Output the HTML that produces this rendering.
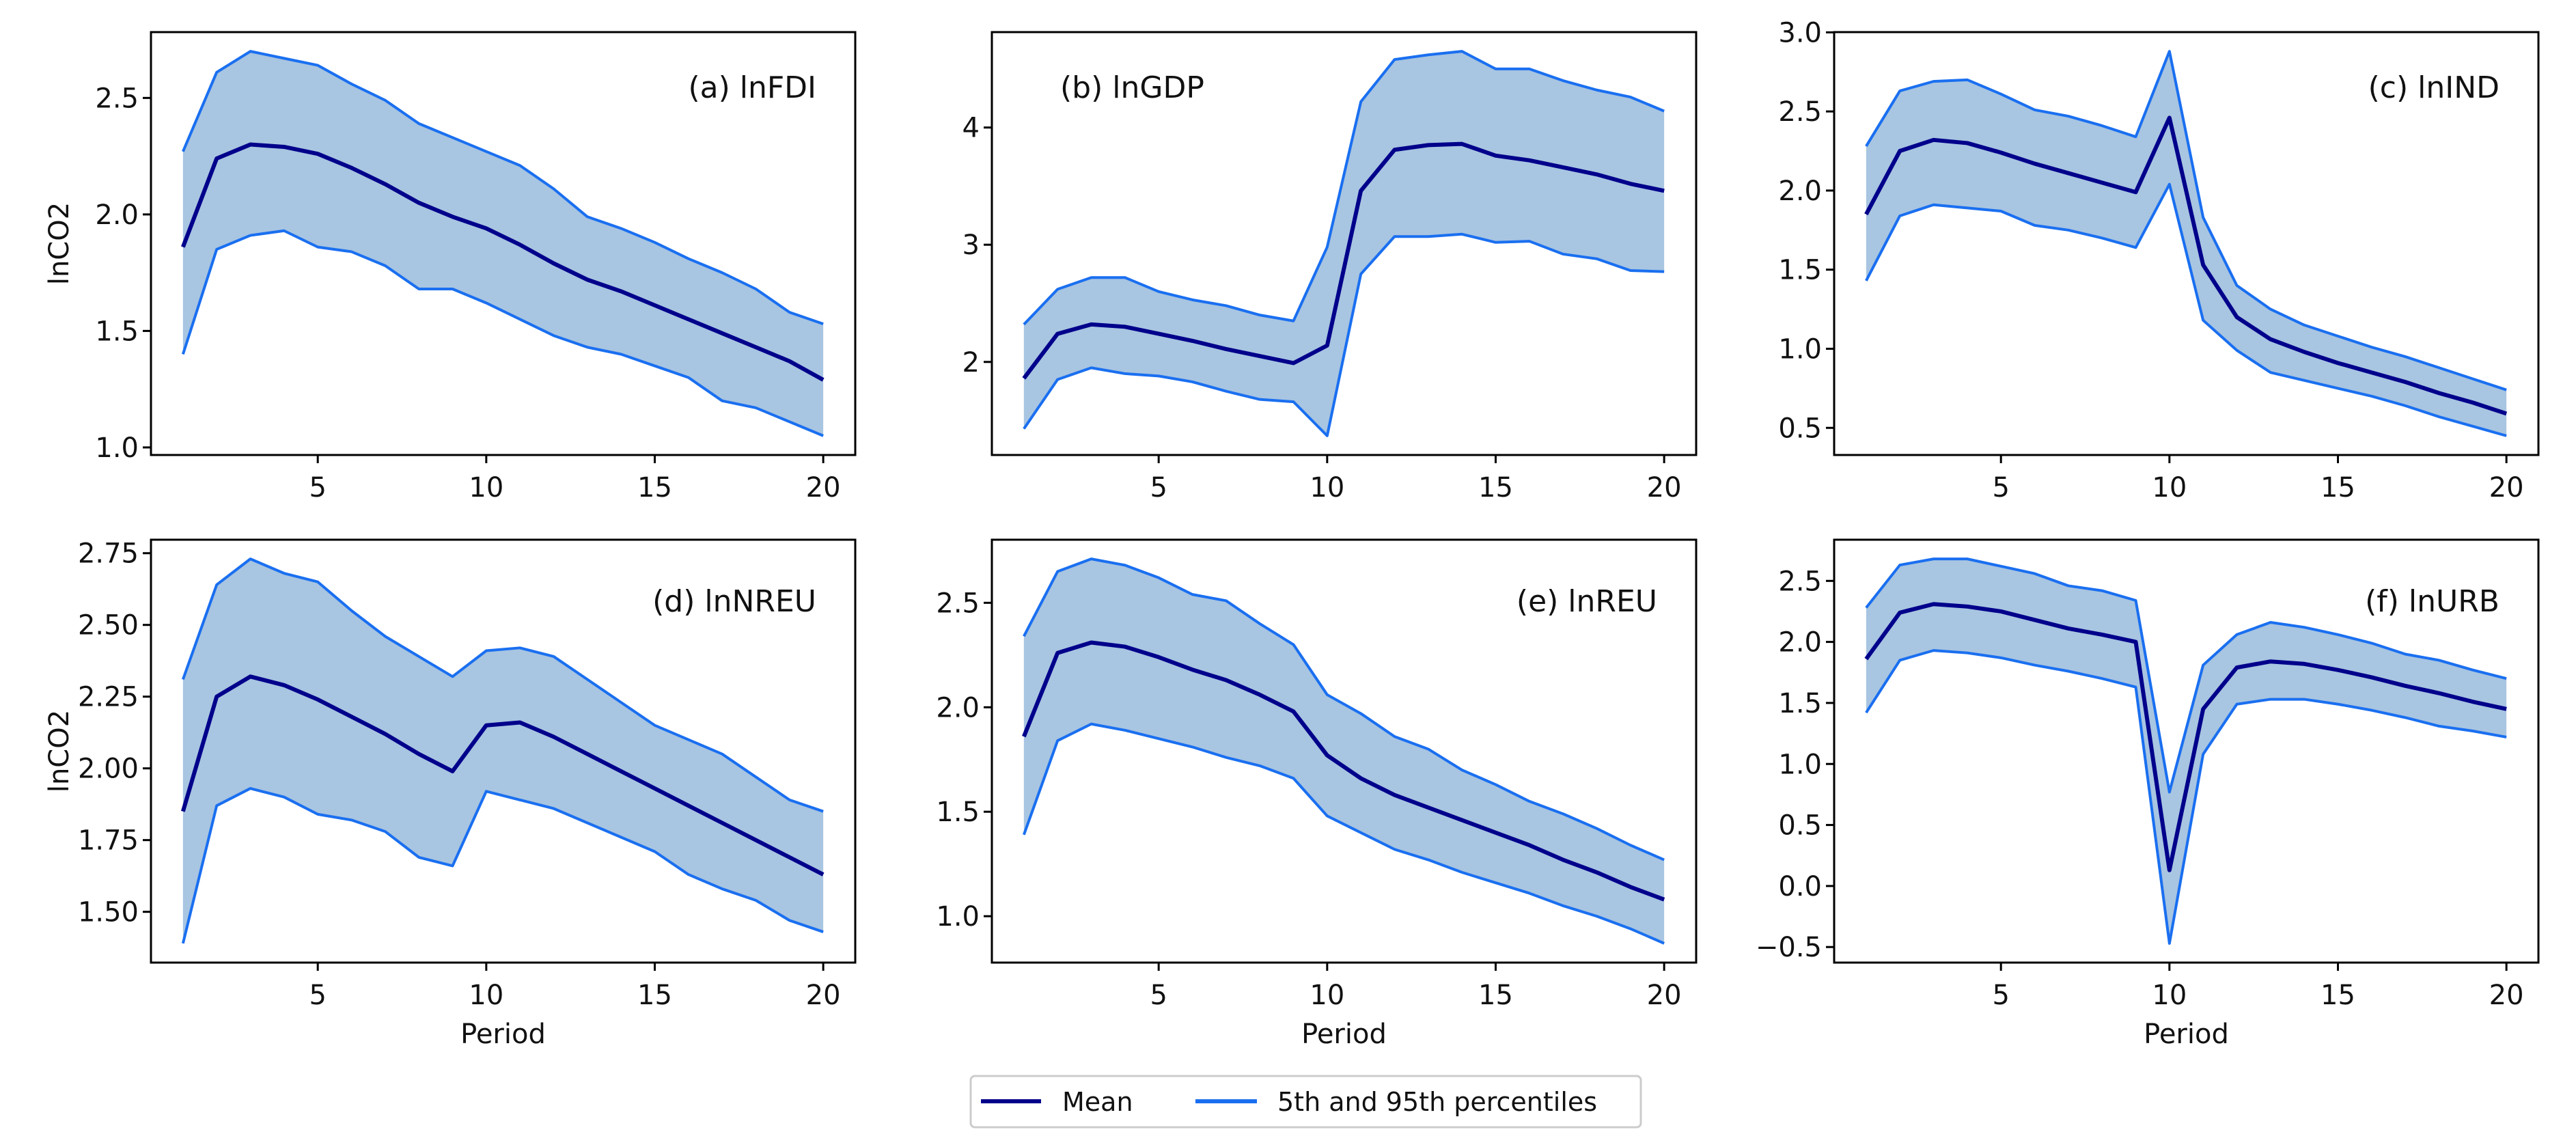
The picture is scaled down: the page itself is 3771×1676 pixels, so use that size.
<!DOCTYPE html>
<html><head><meta charset="utf-8"><style>
html,body{margin:0;padding:0;background:#fff;}
svg{display:block;font-family:"DejaVu Sans","Liberation Sans",sans-serif;}
</style></head><body>
<svg id="chart" width="3771" height="1676" viewBox="0 0 3771 1676" xmlns="http://www.w3.org/2000/svg">
<g id="panels"></g>
<g>
<rect x="1421" y="1575" width="981" height="75" rx="6" fill="#fff" stroke="#ccc" stroke-width="3"/>
<line x1="1436" y1="1612" x2="1524" y2="1612" stroke="#00008b" stroke-width="6"/>
<text x="1555" y="1626" font-size="38" fill="#111">Mean</text>
<line x1="1750" y1="1612" x2="1840" y2="1612" stroke="#1a6ff0" stroke-width="6"/>
<text x="1870" y="1626" font-size="38" fill="#111">5th and 95th percentiles</text>
</g>
</svg>
<script>
const periods = [1,2,3,4,5,6,7,8,9,10,11,12,13,14,15,16,17,18,19,20];
const xTicks = [5,10,15,20];
const titles = ["(a) lnFDI","(b) lnGDP","(c) lnIND","(d) lnNREU","(e) lnREU","(f) lnURB"];
const hiA=[2.27,2.61,2.70,2.67,2.64,2.56,2.49,2.39,2.33,2.27,2.21,2.11,1.99,1.94,1.88,1.81,1.75,1.68,1.58,1.53];
const meanA=[1.86,2.24,2.30,2.29,2.26,2.20,2.13,2.05,1.99,1.94,1.87,1.79,1.72,1.67,1.61,1.55,1.49,1.43,1.37,1.29];
const loA=[1.40,1.85,1.91,1.93,1.86,1.84,1.78,1.68,1.68,1.62,1.55,1.48,1.43,1.40,1.35,1.30,1.20,1.17,1.11,1.05];
const hiB=[2.32,2.62,2.72,2.72,2.60,2.53,2.48,2.40,2.35,2.98,4.22,4.58,4.62,4.65,4.50,4.50,4.40,4.32,4.26,4.14];
const meanB=[1.86,2.24,2.32,2.30,2.24,2.18,2.11,2.05,1.99,2.14,3.46,3.81,3.85,3.86,3.76,3.72,3.66,3.60,3.52,3.46];
const loB=[1.43,1.85,1.95,1.90,1.88,1.83,1.75,1.68,1.66,1.37,2.75,3.07,3.07,3.09,3.02,3.03,2.92,2.88,2.78,2.77];
const hiC=[2.28,2.63,2.69,2.70,2.61,2.51,2.47,2.41,2.34,2.88,1.83,1.40,1.25,1.15,1.08,1.01,0.95,0.88,0.81,0.74];
const meanC=[1.85,2.25,2.32,2.30,2.24,2.17,2.11,2.05,1.99,2.46,1.53,1.20,1.06,0.98,0.91,0.85,0.79,0.72,0.66,0.59];
const loC=[1.43,1.84,1.91,1.89,1.87,1.78,1.75,1.70,1.64,2.04,1.18,0.99,0.85,0.80,0.75,0.70,0.64,0.57,0.51,0.45];
const hiD=[2.31,2.64,2.73,2.68,2.65,2.55,2.46,2.39,2.32,2.41,2.42,2.39,2.31,2.23,2.15,2.10,2.05,1.97,1.89,1.85];
const meanD=[1.85,2.25,2.32,2.29,2.24,2.18,2.12,2.05,1.99,2.15,2.16,2.11,2.05,1.99,1.93,1.87,1.81,1.75,1.69,1.63];
const loD=[1.39,1.87,1.93,1.90,1.84,1.82,1.78,1.69,1.66,1.92,1.89,1.86,1.81,1.76,1.71,1.63,1.58,1.54,1.47,1.43];
const hiE=[2.34,2.65,2.71,2.68,2.62,2.54,2.51,2.40,2.30,2.06,1.97,1.86,1.80,1.70,1.63,1.55,1.49,1.42,1.34,1.27];
const meanE=[1.86,2.26,2.31,2.29,2.24,2.18,2.13,2.06,1.98,1.77,1.66,1.58,1.52,1.46,1.40,1.34,1.27,1.21,1.14,1.08];
const loE=[1.39,1.84,1.92,1.89,1.85,1.81,1.76,1.72,1.66,1.48,1.40,1.32,1.27,1.21,1.16,1.11,1.05,1.00,0.94,0.87];
const hiF=[2.28,2.63,2.68,2.68,2.62,2.56,2.46,2.42,2.34,0.77,1.81,2.06,2.16,2.12,2.06,1.99,1.90,1.85,1.77,1.70];
const meanF=[1.86,2.24,2.31,2.29,2.25,2.18,2.11,2.06,2.00,0.13,1.45,1.79,1.84,1.82,1.77,1.71,1.64,1.58,1.51,1.45];
const loF=[1.42,1.85,1.93,1.91,1.87,1.81,1.76,1.70,1.63,-0.47,1.08,1.49,1.53,1.53,1.49,1.44,1.38,1.31,1.27,1.22];
const yTicksA=[1.0,1.5,2.0,2.5];
const yTicksB=[2,3,4];
const yTicksC=[0.5,1.0,1.5,2.0,2.5,3.0];
const yTicksD=[1.50,1.75,2.00,2.25,2.50,2.75];
const yTicksE=[1.0,1.5,2.0,2.5];
const yTicksF=[-0.5,0.0,0.5,1.0,1.5,2.0,2.5];

const his=[hiA,hiB,hiC,hiD,hiE,hiF], means=[meanA,meanB,meanC,meanD,meanE,meanF], los=[loA,loB,loC,loD,loE,loF];
const yts=[yTicksA,yTicksB,yTicksC,yTicksD,yTicksE,yTicksF];
const decs=[1,0,1,2,1,1];
const lefts=[221,1452,2685], tops=[47,790], W=1031, H=619;
const NS="http://www.w3.org/2000/svg";
const root=document.getElementById('panels');
function mk(tag,attrs,parent){const e=document.createElementNS(NS,tag);for(const k in attrs)e.setAttribute(k,attrs[k]);parent.appendChild(e);return e;}
for(let p=0;p<6;p++){
  const L=lefts[p%3], T=tops[Math.floor(p/3)];
  const g=mk('g',{},root);
  
  
  const hi=his[p], me=means[p], lo=los[p];
  const all=hi.concat(me,lo);
  const mn=Math.min(...all), mx=Math.max(...all), r=mx-mn;
  const y0=mn-0.05*r, y1=mx+0.05*r;
  const x0=1-0.95, x1=20+0.95;
  const sx=v=>L+(v-x0)/(x1-x0)*W;
  const sy=v=>T+H-(v-y0)/(y1-y0)*H;
  // band
  let d='M'+periods.map((t,i)=>sx(t)+','+sy(hi[i])).join('L');
  for(let i=periods.length-1;i>=0;i--) d+='L'+sx(periods[i])+','+sy(lo[i]);
  d+='Z';
  const band=mk('path',{d:d,fill:'#a8c5e1',stroke:'none'},g);
  
  
  const mkLine=(arr,col,w,name)=>{const l=mk('polyline',{points:periods.map((t,i)=>sx(t)+','+sy(arr[i])).join(' '),fill:'none',stroke:col,'stroke-width':w,'stroke-linejoin':'round'},g);
    
    };
  mkLine(hi,'#1a6ff0',4,'upper-95th-line');
  mkLine(lo,'#1a6ff0',4,'lower-5th-line');
  mkLine(me,'#00008b',6,'mean-line');
  const fr=mk('rect',{x:L,y:T,width:W,height:H,fill:'none',stroke:'#000','stroke-width':3},g);
  
  
  xTicks.forEach(t=>{
    mk('line',{x1:sx(t),x2:sx(t),y1:T+H,y2:T+H+12,stroke:'#000','stroke-width':3},g);
    const tx=mk('text',{x:sx(t),y:T+H+61,'font-size':40,'text-anchor':'middle',fill:'#111'},g);
    tx.textContent=t;
    
    
  });
  yts[p].forEach(t=>{
    mk('line',{x1:L-12,x2:L,y1:sy(t),y2:sy(t),stroke:'#000','stroke-width':3},g);
    const tx=mk('text',{x:L-18,y:sy(t)+14,'font-size':40,'text-anchor':'end',fill:'#111'},g);
    tx.textContent=(t<0?'\u2212':'')+Math.abs(t).toFixed(decs[p]);
    
    
  });
  const ttl=mk('text',{x:p==1?L+100:L+W-57,y:T+(p<3?96:105),'font-size':44,'text-anchor':p==1?'start':'end',fill:'#111'},g);
  ttl.textContent=titles[p];
  
  
  if(p%3==0){
    const yl=mk('text',{x:0,y:0,'font-size':40,'text-anchor':'middle',fill:'#111',transform:`translate(100,${T+H/2}) rotate(-90)`},g);
    yl.textContent='lnCO2';
    
    
  }
  if(p>=3){
    const xl=mk('text',{x:L+W/2,y:T+H+118,'font-size':40,'text-anchor':'middle',fill:'#111'},g);
    xl.textContent='Period';
    
    
  }
}
</script>
</body></html>
